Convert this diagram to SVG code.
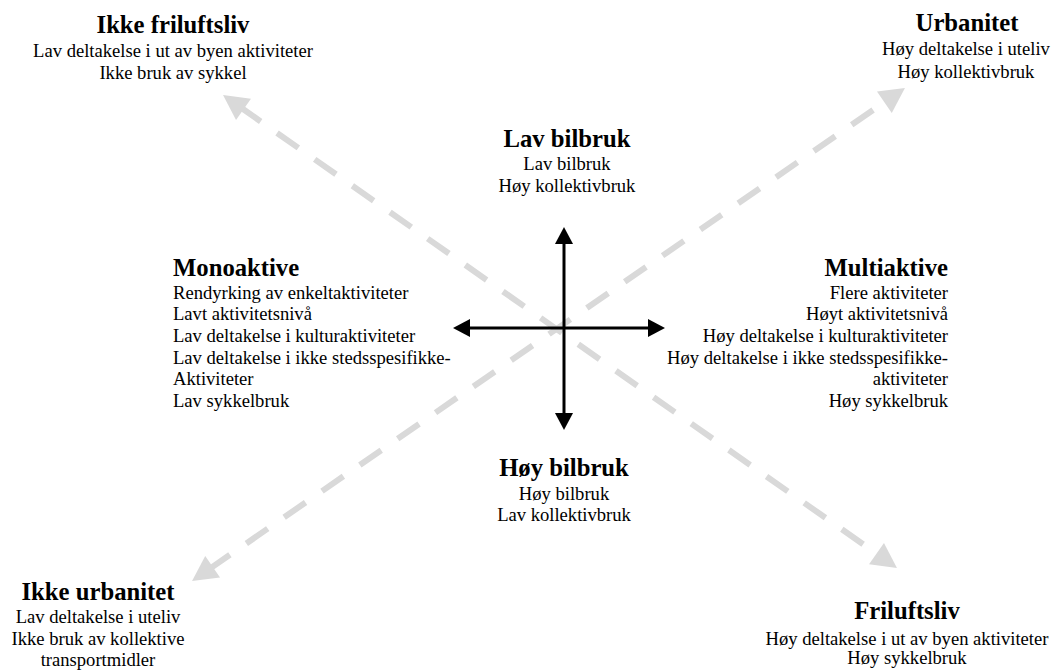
<svg xmlns="http://www.w3.org/2000/svg" width="1054" height="670" viewBox="0 0 1054 670">
  <style>
    text { font-family: "Liberation Serif", "Times New Roman", serif; fill: #000; }
    .title { font-size: 24.7px; font-weight: bold; }
    .body { font-size: 18.6px; }
    .mid { text-anchor: middle; }
    .end { text-anchor: end; }
    .axis { stroke: #000; stroke-width: 3; fill: none; }
    .trend { stroke: #d9d9d9; stroke-width: 6; stroke-dasharray: 26 20; fill: none; }
  </style>
  <defs>
    <marker id="blackHead" markerUnits="userSpaceOnUse" orient="auto-start-reverse" refX="2" refY="0" markerWidth="20" markerHeight="20" overflow="visible">
      <path d="M0,-9 L17,0 L0,9 z" fill="#000"/>
    </marker>
    <marker id="grayHead" markerUnits="userSpaceOnUse" orient="auto-start-reverse" refX="5" refY="0" markerWidth="30" markerHeight="30" overflow="visible">
      <path d="M0,-13 L25,0 L0,13 z" fill="#d9d9d9"/>
    </marker>
  </defs>

  <!-- connectors: dashed trend diagonals and the black axes -->
  <g id="connectors">
    <path class="trend" d="M239.4,106.5 L880.6,556.5" marker-start="url(#grayHead)" marker-end="url(#grayHead)"/>
    <path class="trend" d="M208.5,569.6 L888.5,99.4" marker-start="url(#grayHead)" marker-end="url(#grayHead)"/>
    <path class="axis" d="M564,242 L564,415" marker-start="url(#blackHead)" marker-end="url(#blackHead)"/>
    <path class="axis" d="M468,328 L650,328" marker-start="url(#blackHead)" marker-end="url(#blackHead)"/>
  </g>

  <g id="ikke-friluftsliv">
    <text class="title mid" x="173" y="33">Ikke friluftsliv</text>
    <text class="body mid" x="173" y="57">Lav deltakelse i ut av byen aktiviteter</text>
    <text class="body mid" x="173" y="79">Ikke bruk av sykkel</text>
  </g>

  <g id="urbanitet">
    <text class="title mid" x="967" y="31">Urbanitet</text>
    <text class="body mid" x="966" y="55">Høy deltakelse i uteliv</text>
    <text class="body mid" x="966" y="78">Høy kollektivbruk</text>
  </g>

  <g id="lav-bilbruk">
    <text class="title mid" x="567" y="147">Lav bilbruk</text>
    <text class="body mid" x="567" y="170">Lav bilbruk</text>
    <text class="body mid" x="567" y="192">Høy kollektivbruk</text>
  </g>

  <g id="monoaktive">
    <text class="title" x="173" y="276">Monoaktive</text>
    <text class="body" x="173" y="299">Rendyrking av enkeltaktiviteter</text>
    <text class="body" x="173" y="320">Lavt aktivitetsnivå</text>
    <text class="body" x="173" y="342">Lav deltakelse i kulturaktiviteter</text>
    <text class="body" x="173" y="364">Lav deltakelse i ikke stedsspesifikke-</text>
    <text class="body" x="173" y="385">Aktiviteter</text>
    <text class="body" x="173" y="407">Lav sykkelbruk</text>
  </g>

  <g id="multiaktive">
    <text class="title end" x="948" y="276">Multiaktive</text>
    <text class="body end" x="948" y="299">Flere aktiviteter</text>
    <text class="body end" x="948" y="320">Høyt aktivitetsnivå</text>
    <text class="body end" x="948" y="342">Høy deltakelse i kulturaktiviteter</text>
    <text class="body end" x="948" y="364">Høy deltakelse i ikke stedsspesifikke-</text>
    <text class="body end" x="948" y="385">aktiviteter</text>
    <text class="body end" x="948" y="407">Høy sykkelbruk</text>
  </g>

  <g id="hoy-bilbruk">
    <text class="title mid" x="564" y="476">Høy bilbruk</text>
    <text class="body mid" x="564" y="500">Høy bilbruk</text>
    <text class="body mid" x="564" y="521">Lav kollektivbruk</text>
  </g>

  <g id="ikke-urbanitet">
    <text class="title mid" x="98" y="600">Ikke urbanitet</text>
    <text class="body mid" x="98" y="623">Lav deltakelse i uteliv</text>
    <text class="body mid" x="98" y="645">Ikke bruk av kollektive</text>
    <text class="body mid" x="98" y="666">transportmidler</text>
  </g>

  <g id="friluftsliv">
    <text class="title mid" x="907" y="619">Friluftsliv</text>
    <text class="body mid" x="907" y="645">Høy deltakelse i ut av byen aktiviteter</text>
    <text class="body mid" x="907" y="664">Høy sykkelbruk</text>
  </g>
</svg>
